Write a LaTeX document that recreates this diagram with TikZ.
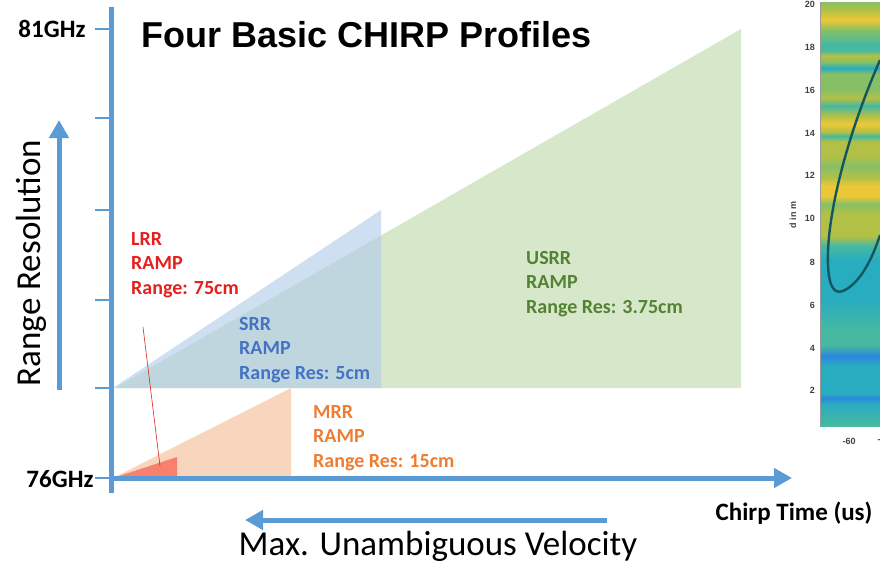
\documentclass[tikz,border=0pt]{standalone}
\usepackage{fontspec}
\setmainfont{Carlito}
\newfontfamily\titlefont{Liberation Sans}
\usetikzlibrary{arrows.meta,positioning}

\definecolor{axisblue}{RGB}{91,155,213}
\definecolor{usrrfill}{RGB}{214,231,202}
\definecolor{srrfill}{RGB}{180,206,235}
\definecolor{mrrfill}{RGB}{248,214,190}
\definecolor{lrrfill}{RGB}{250,128,110}
\definecolor{lrrtext}{RGB}{228,32,30}
\definecolor{srrtext}{RGB}{68,114,196}
\definecolor{usrrtext}{RGB}{84,130,53}
\definecolor{mrrtext}{RGB}{237,125,49}
% heat map colours
\definecolor{hmblue}{RGB}{45,135,220}
\definecolor{hmcyan}{RGB}{40,172,192}
\definecolor{hmteal}{RGB}{70,185,160}
\definecolor{hmgreen}{RGB}{135,192,100}
\definecolor{hmolive}{RGB}{178,192,70}
\definecolor{hmyellow}{RGB}{236,200,55}
\definecolor{hmcurve}{RGB}{20,85,95}

\begin{document}
\begin{tikzpicture}[x=1pt, y=-1pt,
  axis/.style={draw=axisblue, line width=5pt},
  tickmark/.style={draw=axisblue, line width=2.2pt},
  bigarrow/.style={draw=axisblue, line width=5pt,
                   -{Triangle[length=18pt, width=19pt]}},
  freq/.style={font=\bfseries\fontsize{25}{27}\selectfont, anchor=east},
  ramp/.style={font=\bfseries\fontsize{20}{24.5}\selectfont, align=left,
               anchor=north west, inner sep=0pt},
  caption/.style={font=\fontsize{35}{38}\selectfont},
  hmtick/.style={font=\titlefont\bfseries\fontsize{9}{10}\selectfont,
                 text=black!75, inner sep=1pt}
]
  \useasboundingbox (0,0) rectangle (880,565);

  % chirp ramps
  \fill[usrrfill] (115,388) -- (741,29) -- (741,388) -- cycle;
  \fill[srrfill, opacity=0.65] (113,388) -- (381,210) -- (381,388) -- cycle;
  \fill[mrrfill] (113,478) -- (291,388) -- (291,478) -- cycle;
  \fill[lrrfill] (113,478) -- (177,457) -- (177,478) -- cycle;

  % axes
  \coordinate (origin) at (111,478);
  \coordinate (ytop) at (111,7);
  \coordinate (ybot) at (111,493);
  \coordinate (xend) at (792,478);
  \draw[axis] (ybot) -- (ytop);
  \draw[bigarrow] (origin) -- (xend);
  \foreach \ty in {29,118,210,300,388,478}
    \draw[tickmark] (95,\ty) -- (111,\ty);

  \node[freq] (fmax) at (89,29) {81GHz};
  \node[freq] (fmin) at (97,479) {76GHz};

  \node[font=\titlefont\bfseries\fontsize{36}{38}\selectfont, anchor=base west]
    (title) at (138,47) {Four Basic CHIRP Profiles};

  % range resolution arrow
  \coordinate (resbot) at (59,390);
  \coordinate (restop) at (59,120);
  \draw[bigarrow] (resbot) -- (restop);
  \node[caption, rotate=90] (reslabel) at (31,263) {Range Resolution};

  % velocity arrow
  \coordinate (velstart) at (607,520);
  \coordinate (velend) at (245,520);
  \draw[bigarrow] (velstart) -- (velend);
  \node[caption, anchor=base] (vellabel) at (438,555) {Max. Unambiguous Velocity};

  \node[font=\bfseries\fontsize{25}{27}\selectfont, anchor=base east]
    (timelabel) at (876,520) {Chirp Time (us)};

  % profile labels
  \node[ramp, text=lrrtext] (lrr) at (131,232) {LRR\\RAMP\\Range: 75cm};
  \node[ramp, text=srrtext] (srr) at (239,317) {SRR\\RAMP\\Range Res: 5cm};
  \node[ramp, text=usrrtext] (usrr) at (526,251) {USRR\\RAMP\\Range Res: 3.75cm};
  \node[ramp, text=mrrtext] (mrr) at (313,405) {MRR\\RAMP\\Range Res: 15cm};
  \coordinate (lrrpin) at (143,327);
  \coordinate (lrrtip) at (160,466);
  \draw[lrrtext, line width=0.6pt] (lrrpin) -- (lrrtip);

  % range-doppler heat map (cut at the right edge)
  \begin{scope}
    \clip (820,2) rectangle (880,426);
    \foreach \ya/\yb/\ca/\cb in {2/10/hmgreen/hmolive, 10/20/hmolive/hmyellow,
        20/30/hmyellow/hmgreen, 30/44/hmgreen/hmteal, 44/50/hmteal/hmteal,
        50/56/hmteal/hmolive, 56/62/hmolive/hmgreen, 62/68/hmgreen/hmcyan,
        68/74/hmcyan/hmgreen, 74/90/hmgreen/hmgreen, 90/98/hmgreen/hmolive,
        98/106/hmolive/hmteal, 106/116/hmteal/hmolive, 116/124/hmolive/hmyellow,
        124/132/hmyellow/hmolive, 132/136/hmolive/hmteal, 136/142/hmteal/hmolive,
        142/156/hmolive/hmolive, 156/166/hmolive/hmgreen, 166/178/hmgreen/hmolive,
        178/186/hmolive/hmyellow, 186/196/hmyellow/hmyellow, 196/204/hmyellow/hmgreen,
        204/214/hmgreen/hmolive, 214/236/hmolive/hmolive, 236/246/hmolive/hmteal,
        246/260/hmteal/hmcyan, 260/300/hmcyan/hmcyan, 300/330/hmcyan/hmteal,
        330/345/hmteal/hmteal, 345/356/hmteal/hmblue, 356/366/hmblue/hmcyan,
        366/394/hmcyan/hmcyan, 394/398/hmcyan/hmblue, 398/404/hmblue/hmcyan,
        404/426/hmcyan/hmteal}
      \shade[top color=\ca, bottom color=\cb] (820,\ya) rectangle (880,\yb);
    \draw[hmcurve, line width=2.4pt] (880,60) .. controls (845,140) and (826,220) .. (828,265)
      .. controls (829,290) and (836,295) .. (845,290)
      .. controls (860,282) and (872,260) .. (880,235);
  \end{scope}
  \draw[black!40, line width=0.6pt] (820,2) -- (820,426);
  \foreach \dv/\dy in {20/4,18/47,16/90,14/133,12/175,10/218,8/262,6/305,4/348,2/390}
    \node[hmtick, anchor=east] (d\dv) at (816,\dy) {\dv};
  \node[hmtick, rotate=90] (dlabel) at (793,215) {d in m};
  \node[hmtick] (vm60) at (849,441) {-60};
  \node[hmtick] (vm40) at (879,441) {-};
\end{tikzpicture}
\end{document}
